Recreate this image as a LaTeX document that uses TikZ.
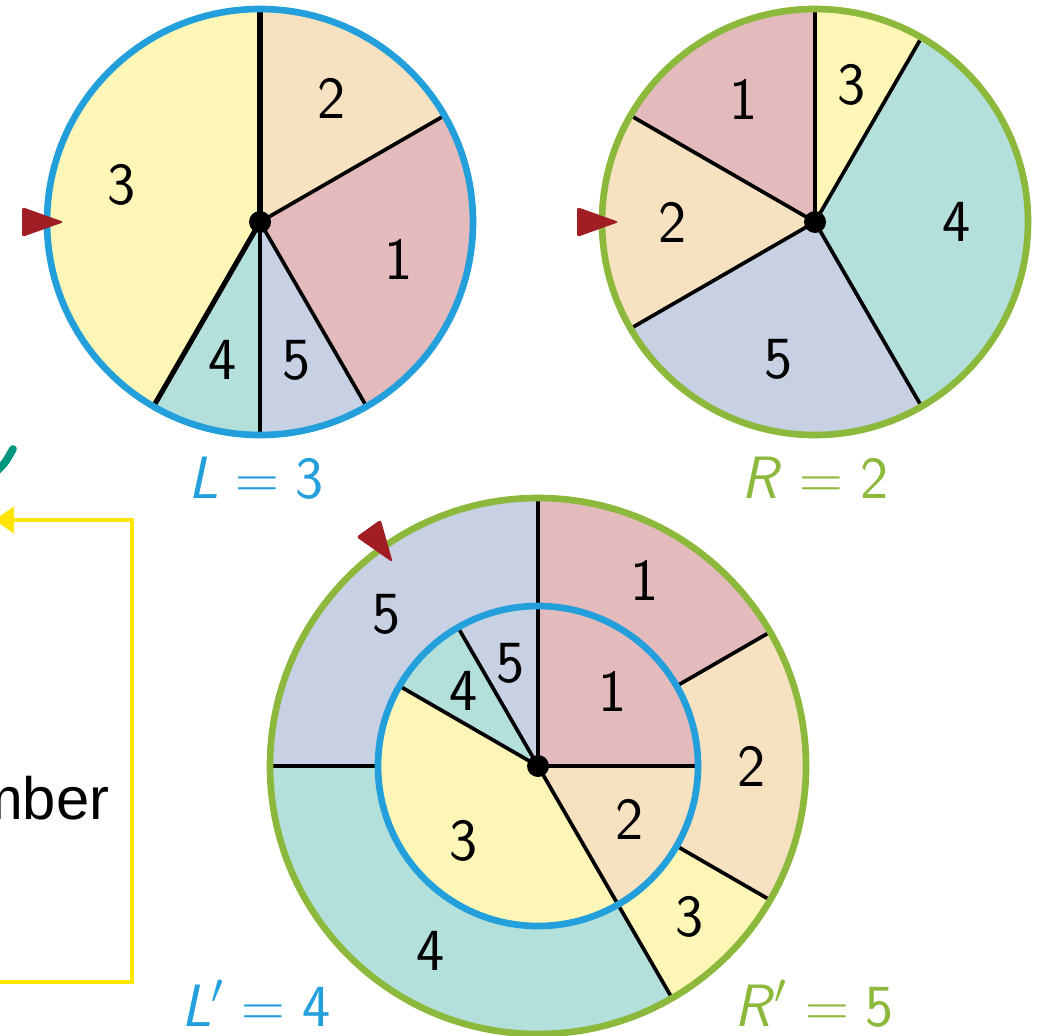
\documentclass[tikz,border=0pt]{standalone}
\usepackage{fontspec}
\newfontfamily\helv{Liberation Sans}
\usetikzlibrary{arrows.meta,calc}
\definecolor{ink}{RGB}{0,0,0}
\definecolor{s1}{RGB}{227,187,189}
\definecolor{s2}{RGB}{246,225,192}
\definecolor{s3}{RGB}{253,246,182}
\definecolor{s4}{RGB}{180,224,220}
\definecolor{s5}{RGB}{200,208,228}
\definecolor{lblue}{RGB}{35,160,220}
\definecolor{rgreen}{RGB}{140,185,60}
\definecolor{pred}{RGB}{160,30,35}
\definecolor{lyel}{RGB}{255,230,0}
\definecolor{tealc}{RGB}{0,150,125}
\tikzset{
  seg/.style={draw=ink,line width=1.05pt},
  segthick/.style={draw=ink,line width=1.45pt},
  rimL/.style={draw=lblue,line width=1.9pt},
  rimR/.style={draw=rgreen,line width=1.9pt},
  num/.style={font=\fontsize{17}{20}\selectfont\sffamily,inner sep=0pt},
  res/.style={font=\fontsize{17}{20}\selectfont\sffamily,inner sep=0pt,anchor=base},
  ptr/.style={fill=pred,rounded corners=0.8pt},
  loopline/.style={draw=lyel,line width=1pt,-{Triangle[length=2mm,width=2.6mm]}},
}

\begin{document}
\begin{tikzpicture}
  \useasboundingbox (0,0) rectangle (10.40,10.35);
  \coordinate (cL) at (2.60,8.13);
  \coordinate (cR) at (8.15,8.13);
  \coordinate (cC) at (5.38,2.69);

  % left wheel
  \foreach \a/\b/\c/\n in {90/30/s2/2,30/-60/s1/1,-60/-90/s5/5,-90/-120/s4/4,-120/-270/s3/3}{
    \fill[\c] (cL) -- ++(\a:2.13) arc[start angle=\a,end angle=\b,radius=2.13] -- cycle;
    \node[num] (L\n) at ($(cL)+({(\a+\b)/2}:1.43)$) {\n};
  }
  \foreach \a in {30,-60,-90} \draw[seg] (cL) -- ++(\a:2.13);
  \foreach \a in {90,-120} \draw[segthick] (cL) -- ++(\a:2.13);
  \draw[rimL] (cL) circle[radius=2.13];
  \fill[ink] (cL) circle[radius=0.11];
  \fill[ptr,shift={(cL)},rotate=180] (1.96,0) -- (2.38,0.15) -- (2.38,-0.15) -- cycle;
  \node[res,text=lblue] (Lres) at (2.56,5.37) {\textit{L}${}={}$3};

  % right wheel
  \foreach \a/\b/\c/\n in {90/60/s3/3,60/-60/s4/4,-60/-150/s5/5,-150/-210/s2/2,-210/-270/s1/1}{
    \fill[\c] (cR) -- ++(\a:2.13) arc[start angle=\a,end angle=\b,radius=2.13] -- cycle;
    \node[num] (R\n) at ($(cR)+({(\a+\b)/2}:1.42)$) {\n};
  }
  \foreach \a in {90,60,-60,-150,-210} \draw[seg] (cR) -- ++(\a:2.13);
  \draw[rimR] (cR) circle[radius=2.13];
  \fill[ink] (cR) circle[radius=0.11];
  \fill[ptr,shift={(cR)},rotate=180] (1.96,0) -- (2.38,0.15) -- (2.38,-0.15) -- cycle;
  \node[res,text=rgreen] (Rres) at (8.15,5.37) {\textit{R}${}={}$2};

  % combined wheel, outer ring
  \foreach \a/\b/\c/\n in {90/30/s1/1,30/-30/s2/2,-30/-60/s3/3,-60/-180/s4/4,-180/-270/s5/5}{
    \fill[\c] (cC) -- ++(\a:2.68) arc[start angle=\a,end angle=\b,radius=2.68] -- cycle;
    \node[num] (O\n) at ($(cC)+({(\a+\b)/2}:2.14)$) {\n};
  }
  \foreach \a in {90,30,-30,-60,180} \draw[seg] ($(cC)+(\a:1.60)$) -- ($(cC)+(\a:2.68)$);
  \draw[rimR] (cC) circle[radius=2.68];
  % inner disc
  \foreach \a/\b/\c/\n in {90/0/s1/1,0/-60/s2/2,-60/-210/s3/3,-210/-240/s4/4,-240/-270/s5/5}{
    \fill[\c] (cC) -- ++(\a:1.60) arc[start angle=\a,end angle=\b,radius=1.60] -- cycle;
    \node[num] (I\n) at ($(cC)+({(\a+\b)/2}:1.06)$) {\n};
  }
  \foreach \a in {90,0,-60,-210,-240} \draw[seg] (cC) -- ++(\a:1.60);
  \draw[rimL] (cC) circle[radius=1.60];
  \fill[ink] (cC) circle[radius=0.11];
  \fill[ptr,shift={(cC)},rotate=125.5] (2.50,0) -- (2.92,0.15) -- (2.92,-0.15) -- cycle;
  \node[res,text=lblue] (Lnew) at (2.56,0.09) {\textit{L}$'$${}={}$4};
  \node[res,text=rgreen] (Rnew) at (8.14,0.09) {\textit{R}$'$${}={}$5};

  % cut-off part on the left
  \coordinate (yb) at (-0.05,0.53);
  \coordinate (yk) at (1.32,5.15);
  \coordinate (yt) at (-0.06,5.15);
  \draw[loopline] (yb) -| (yk) -- (yt);
  \node[font=\helv\fontsize{17}{20}\selectfont,anchor=base east,inner sep=0pt] (word) at (1.10,2.16) {mber};
  \draw[tealc,line width=2.2pt,line cap=round] (-0.03,5.64) .. controls (0.05,5.72) .. (0.13,5.86);
\end{tikzpicture}
\end{document}
